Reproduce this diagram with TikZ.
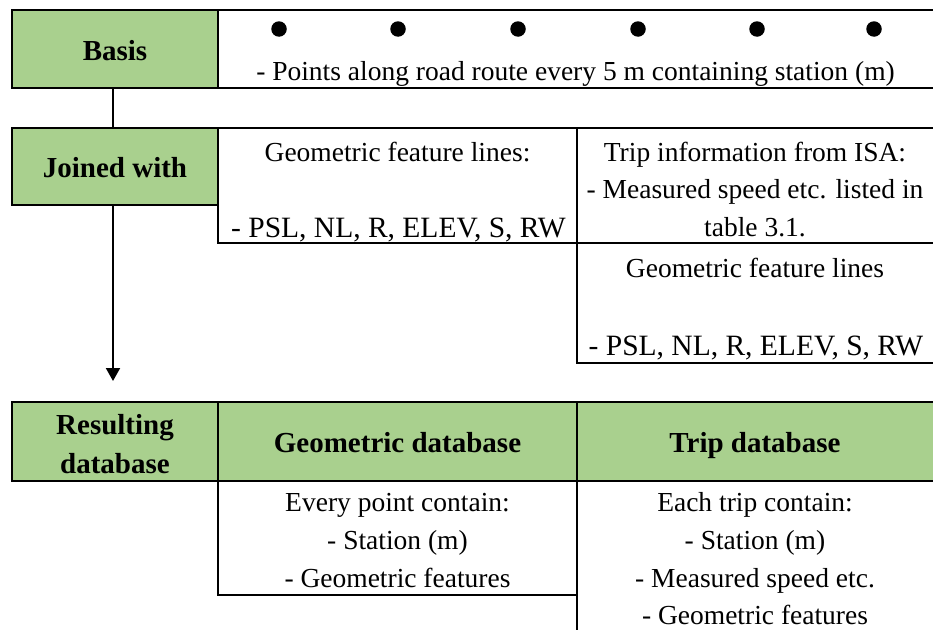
\documentclass[tikz,border=0pt]{standalone}
\usepackage{fontspec}
\setmainfont{Liberation Serif}
\usetikzlibrary{arrows.meta}
\definecolor{hdrgreen}{RGB}{169,208,142}
\begin{document}
\begin{tikzpicture}[x=1pt,y=-1pt,
  rule/.style={line width=2pt},
  hdr/.style={draw, line width=2pt, fill=hdrgreen, inner sep=0pt},
  hdrfill/.style={fill=hdrgreen, inner sep=0pt},
  txt/.style={font=\fontsize{27.5}{33}\selectfont, inner sep=0pt, anchor=base},
  bigtxt/.style={font=\fontsize{29.5}{35}\selectfont, inner sep=0pt, anchor=base},
  btxt/.style={font=\bfseries\fontsize{29}{35}\selectfont, inner sep=0pt, anchor=base},
  dot/.style={circle, fill=black, inner sep=0pt, minimum size=15.5pt}]
\useasboundingbox (0,0) rectangle (933,629);

% ---------- Basis row ----------
\node[hdr, minimum width=206pt, minimum height=78pt] (basis) at (115,49) {};
\node[btxt] (basist) at (115,60) {Basis};
\draw[rule] (218,10) -- (934,10);
\draw[rule] (218,88) -- (934,88);
\foreach \i/\x in {1/279,2/398,3/518,4/638,5/757,6/874}
  \node[dot] (dot\i) at (\x,29) {};
\node[txt] (points) at (575.5,80) {- Points along road route every 5 m containing station (m)};

% ---------- Joined row ----------
\node[hdr, minimum width=206pt, minimum height=77pt] (joined) at (115,166.5) {};
\node[btxt] (joinedt) at (115,177) {Joined with};
\draw[rule] ([xshift=-2pt]basis.south) -- ([xshift=-2pt]joined.north);
\draw[rule] (218,128) -- (934,128);
\draw[rule] (218,128) -- (218,243) -- (934,243);
\draw[rule] (577,128) -- (577,363) -- (934,363);
\node[txt] (gfl1) at (397.5,161) {Geometric feature lines:};
\node[bigtxt] (gfl1b) at (398.5,237) {- PSL, NL, R, ELEV, S, RW};
\node[txt] (trip1) at (755,161) {Trip information from ISA:};
\node[txt] (trip2) at (755,198) {- Measured speed etc. listed in};
\node[txt] (trip3) at (755,236) {table 3.1.};
\node[txt] (gfl2) at (755,277) {Geometric feature lines};
\node[bigtxt] (gfl2b) at (756,355) {- PSL, NL, R, ELEV, S, RW};

% ---------- Arrow ----------
\coordinate (arrowtip) at (113,381);
\draw[rule, -{Triangle[length=13pt,width=14pt]}] ([xshift=-2pt]joined.south) -- (arrowtip);

% ---------- Resulting row ----------
\node[hdrfill, minimum width=357pt, minimum height=79pt] (tripdb) at (755.5,441.5) {};
\node[hdr, minimum width=206pt, minimum height=79pt] (resdb) at (115,441.5) {};
\node[hdr, minimum width=359pt, minimum height=79pt] (geodb) at (397.5,441.5) {};
\draw[rule] (577,402) -- (934,402);
\draw[rule] (577,481) -- (934,481);
\node[btxt] (res1) at (115,434) {Resulting};
\node[btxt] (res2) at (115,473) {database};
\node[btxt] (geodbt) at (397.5,452) {Geometric database};
\node[btxt] (tripdbt) at (755,452) {Trip database};

\draw[rule] (218,481) -- (218,595) -- (577,595);
\draw[rule] (577,481) -- (577,630);
\node[txt] (ev1) at (397.5,511) {Every point contain:};
\node[txt] (ev2) at (397.5,549) {- Station (m)};
\node[txt] (ev3) at (397.5,587) {- Geometric features};
\node[txt] (ea1) at (755,511) {Each trip contain:};
\node[txt] (ea2) at (755,549) {- Station (m)};
\node[txt] (ea3) at (755,587) {- Measured speed etc.};
\node[txt] (ea4) at (755,624) {- Geometric features};
\end{tikzpicture}
\end{document}
